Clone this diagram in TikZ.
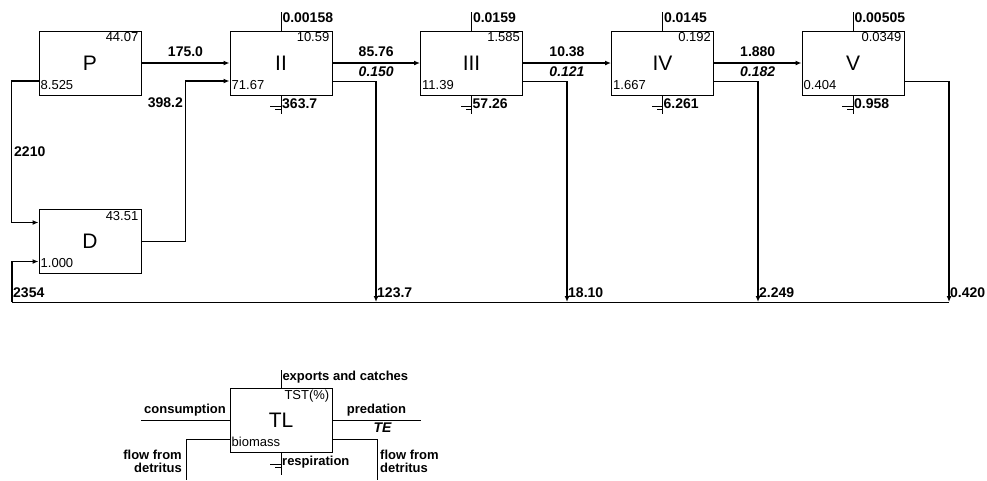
\documentclass[tikz,border=0pt]{standalone}
\usepackage{fontspec}
\setmainfont{Liberation Sans}
\usetikzlibrary{arrows.meta,positioning}

\begin{document}
\begin{tikzpicture}[x=1pt,y=-1pt,
    tlbox/.style={rectangle,draw,line width=1pt,minimum width=102pt,minimum height=64pt,
      inner sep=0pt,font=\fontsize{21}{21}\selectfont},
    tst/.style={anchor=north east,inner xsep=3pt,inner ysep=2pt,font=\fontsize{13}{13}\selectfont},
    bio/.style={anchor=south west,inner xsep=2pt,inner ysep=2pt,yshift=4pt,font=\fontsize{13}{13}\selectfont},
    flowlabel/.style={inner sep=1pt,font=\fontsize{14}{14}\selectfont\bfseries},
    telabel/.style={inner sep=1pt,font=\fontsize{14}{14}\selectfont\bfseries\itshape},
    keylabel/.style={inner sep=1pt,font=\fontsize{13}{13}\selectfont\bfseries},
    link/.style={line width=1pt},
    flowarrow/.style={-{Latex[length=6pt,width=5pt]},line width=2pt},
    feedarrow/.style={-{Latex[length=6pt,width=5pt]},line width=1.2pt}
  ]
    \useasboundingbox (0,0) rectangle (987,480);

    \node[tlbox] (P) at (90,63) {P};
    \node[tlbox] (II) at (281,63) {II};
    \node[tlbox] (III) at (471.5,63) {III};
    \node[tlbox] (IV) at (662.5,63) {IV};
    \node[tlbox] (V) at (853,63) {V};
    \node[tlbox] (D) at (90,241.5) {D};

    \node[tst] (Ptst) at (P.north east) {44.07};
    \node[bio] (Pbio) at (P.south west) {8.525};
    \node[tst] (IItst) at (II.north east) {10.59};
    \node[bio] (IIbio) at (II.south west) {71.67};
    \node[tst] (IIItst) at (III.north east) {1.585};
    \node[bio] (IIIbio) at (III.south west) {11.39};
    \node[tst] (IVtst) at (IV.north east) {0.192};
    \node[bio] (IVbio) at (IV.south west) {1.667};
    \node[tst] (Vtst) at (V.north east) {0.0349};
    \node[bio] (Vbio) at (V.south west) {0.404};
    \node[tst] (Dtst) at (D.north east) {43.51};
    \node[bio] (Dbio) at (D.south west) {1.000};

    % exports and catches
    \draw[link] (II.north) -- ++(0,-19) node[flowlabel,anchor=north west] (xII) {0.00158};
    \draw[link] (III.north) -- ++(0,-19) node[flowlabel,anchor=north west] (xIII) {0.0159};
    \draw[link] (IV.north) -- ++(0,-19) node[flowlabel,anchor=north west] (xIV) {0.0145};
    \draw[link] (V.north) -- ++(0,-19) node[flowlabel,anchor=north west] (xV) {0.00505};

    % respiration
    \draw[link] (II.south) -- ++(0,18);
    \draw[link] ([yshift=-11pt]II.south) -- ++(-11,0);
    \draw[link] ([yshift=-14pt]II.south) -- ++(-6,0);
    \node[flowlabel,anchor=west] (rII) at ([yshift=-8pt]II.south) {363.7};
    \draw[link] (III.south) -- ++(0,18);
    \draw[link] ([yshift=-11pt]III.south) -- ++(-11,0);
    \draw[link] ([yshift=-14pt]III.south) -- ++(-6,0);
    \node[flowlabel,anchor=west] (rIII) at ([yshift=-8pt]III.south) {57.26};
    \draw[link] (IV.south) -- ++(0,18);
    \draw[link] ([yshift=-11pt]IV.south) -- ++(-11,0);
    \draw[link] ([yshift=-14pt]IV.south) -- ++(-6,0);
    \node[flowlabel,anchor=west] (rIV) at ([yshift=-8pt]IV.south) {6.261};
    \draw[link] (V.south) -- ++(0,18);
    \draw[link] ([yshift=-11pt]V.south) -- ++(-11,0);
    \draw[link] ([yshift=-14pt]V.south) -- ++(-6,0);
    \node[flowlabel,anchor=west] (rV) at ([yshift=-8pt]V.south) {0.958};

    % predation chain
    \draw[flowarrow] (P) -- node[flowlabel,above=4pt] (fP) {175.0} (II);
    \draw[flowarrow] (II) -- node[flowlabel,above=4pt] (fII) {85.76}
      node[telabel,below=2pt] (eII) {0.150} (III);
    \draw[flowarrow] (III) -- node[flowlabel,above=4pt] (fIII) {10.38}
      node[telabel,below=2pt] (eIII) {0.121} (IV);
    \draw[flowarrow] (IV) -- node[flowlabel,above=4pt] (fIV) {1.880}
      node[telabel,below=2pt] (eIV) {0.182} (V);

    % detritus loop
    \coordinate (detL) at (12,302);
    \coordinate (kII) at (376,81);
    \coordinate (kIII) at (567,81);
    \coordinate (kIV) at (758,81);
    \coordinate (kV) at (949,81);
    \coordinate (dII) at (376,302);
    \coordinate (dIII) at (567,302);
    \coordinate (dIV) at (758,302);
    \coordinate (dV) at (949,302);

    \draw[feedarrow] ([yshift=-18pt]P.west) -- ++(-27,0) |- ([yshift=19pt]D.west);
    \node[flowlabel,anchor=west] (lP) at (13,152) {2210};
    \draw[feedarrow] (D.east) -- ++(44,0) |- ([yshift=-18pt]II.west);
    \node[flowlabel,anchor=east] (lD) at (184,103) {398.2};
    \draw[link] (dV) -- (detL);
    \draw[feedarrow] (detL) |- ([yshift=-20pt]D.west);
    \node[flowlabel,anchor=south west,yshift=3pt] (lDet) at (detL) {2354};

    \draw[link] ([yshift=-18pt]II.east) -- (kII);
    \draw[flowarrow] (kII) -- (dII);
    \node[flowlabel,anchor=south west,yshift=3pt] (oII) at (dII) {123.7};
    \draw[link] ([yshift=-18pt]III.east) -- (kIII);
    \draw[flowarrow] (kIII) -- (dIII);
    \node[flowlabel,anchor=south west,yshift=3pt] (oIII) at (dIII) {18.10};
    \draw[link] ([yshift=-18pt]IV.east) -- (kIV);
    \draw[flowarrow] (kIV) -- (dIV);
    \node[flowlabel,anchor=south west,yshift=3pt] (oIV) at (dIV) {2.249};
    \draw[link] ([yshift=-18pt]V.east) -- (kV);
    \draw[flowarrow] (kV) -- (dV);
    \node[flowlabel,anchor=south west,yshift=3pt] (oV) at (dV) {0.420};

    % key
    \node[tlbox] (TL) at (281,420) {TL};
    \node[tst] (TLtst) at (TL.north east) {TST(\%)};
    \node[bio] (TLbio) at (TL.south west) {biomass};
    \draw[link] (TL.north) -- ++(0,-18) node[keylabel,anchor=north west] (kx) {exports and catches};
    \draw[link] (TL.west) -- node[keylabel,above=2pt] (kc) {consumption} ++(-89,0);
    \draw[link] (TL.east) -- node[keylabel,above=2pt] (kp) {predation}
      node[telabel,below=1pt,xshift=6pt] (kte) {TE} ++(88,0);
    \draw[link] (TL.south) -- ++(0,22);
    \draw[link] ([yshift=-12pt]TL.south) -- ++(-11,0);
    \draw[link] ([yshift=-15pt]TL.south) -- ++(-6,0);
    \node[keylabel,anchor=west] (kr) at ([yshift=-10pt]TL.south) {respiration};
    \coordinate (kL) at (186,480);
    \coordinate (kR) at (377,480);
    \draw[link] ([yshift=-19pt]TL.west) -| (kL);
    \node[keylabel,align=right,anchor=east] (kfl) at (183,461) {flow from\\detritus};
    \draw[link] ([yshift=-19pt]TL.east) -| (kR);
    \node[keylabel,align=left,anchor=west] (kfr) at (379,461) {flow from\\detritus};
  \end{tikzpicture}
\end{document}
